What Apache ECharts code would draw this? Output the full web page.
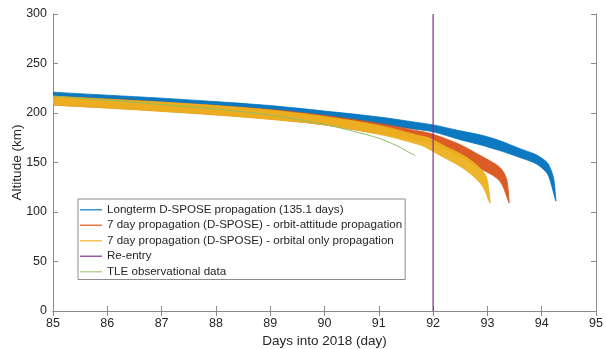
<!DOCTYPE html>
<html>
<head>
<meta charset="utf-8">
<script src="https://cdn.jsdelivr.net/npm/echarts@6/dist/echarts.min.js"></script>
<style>
html,body{margin:0;padding:0;background:#fff;}
#chart{width:606px;height:349px;}
</style>
</head>
<body>
<div id="chart"></div>
<script>
// X axis ticks
const xTicks = [85, 86, 87, 88, 89, 90, 91, 92, 93, 94, 95];
const yTicks = [0, 50, 100, 150, 200, 250, 300];

// Longterm D-SPOSE propagation (band envelope of the oscillating altitude)
const longDays  = [85, 86, 87, 88, 89, 90, 91, 91.76, 92, 92.5, 92.86, 93.23, 93.6, 93.85, 93.97, 94.1, 94.16, 94.22, 94.26];
const longUpper = [221, 218, 215, 211.5, 207.5, 202, 196, 190, 188, 182, 178, 172, 164, 159, 155.5, 150, 144, 134, 113];
const longLower = [216, 213, 210, 206.5, 202, 196, 189, 183, 181, 173, 168, 162, 155, 150, 146, 139, 131, 119, 111];

// 7 day propagation, orbit-attitude
const oaDays  = [85, 87, 89, 90, 91, 91.76, 92, 92.5, 92.87, 93.1, 93.23, 93.3, 93.36, 93.4];
const oaUpper = [217, 211, 203.5, 197.5, 189.5, 181.5, 178.5, 168, 157, 150, 145, 140, 132, 111];
const oaLower = [208, 202, 194, 188, 179, 172, 169, 156, 144, 137, 131, 124, 115, 109];

// 7 day propagation, orbital only
const orbDays  = [85, 86, 87, 88, 89, 90, 91, 91.76, 91.94, 92.2, 92.5, 92.7, 92.87, 92.95, 93.0, 93.05];
const orbUpper = [217, 214, 211, 207.5, 203, 196.5, 187.5, 177, 174.5, 167, 159, 152, 144, 139, 132, 111];
const orbLower = [208, 205, 201.5, 198, 193.5, 188, 178.5, 167.7, 163, 155, 146, 138, 129, 122, 115, 109];

// Re-entry
const reentryDay = 92;
const reentryRange = [0, 300];

// TLE observational data
const tleDays = [85, 86, 87, 88, 89, 89.5, 90, 90.5, 91, 91.33, 91.5, 91.67];
const tleAlt  = [217, 213, 208.5, 204, 198, 193.5, 188.5, 182, 174.5, 167, 162, 157];

const names = [
  'Longterm D-SPOSE propagation (135.1 days)',
  '7 day propagation (D-SPOSE) - orbit-attitude propagation',
  '7 day propagation (D-SPOSE) - orbital only propagation',
  'Re-entry',
  'TLE observational data'
];
const colors = ['#0072BD', '#D95319', '#EDB120', '#7E2F8E', '#8fc060'];
const legendColors = ['#3a93d3', '#e5784a', '#f2c453', '#9a5aa6', '#b3d68f'];

function bandSeries(name, days, upper, lower, color) {
  return {
    name: name,
    type: 'custom',
    xAxisIndex: 0, yAxisIndex: 0,
    clip: true,
    itemStyle: {color: color},
    data: [[days[0], upper[0]]],
    renderItem: function (params, api) {
      const top = days.map((d, i) => api.coord([d, upper[i]]));
      const bot = days.map((d, i) => api.coord([d, lower[i]]));
      return {
        type: 'group',
        children: [{
          type: 'polyline',
          shape: {points: top.concat(bot.slice().reverse()), smooth: 0.3},
          style: {fill: color, stroke: color, lineWidth: 0.8, opacity: 0.95}
        }]
      };
    }
  };
}

const font = "'Liberation Sans', Arial, Helvetica, sans-serif";
const axisColor = '#8a8a8a';
const textColor = '#262626';

const chart = echarts.init(document.getElementById('chart'), null, {renderer: 'canvas'});
const option = {
  animation: false,
  backgroundColor: '#fff',
  textStyle: {fontFamily: font},
  grid: {left: 53, right: 10, top: 14, bottom: 38, containLabel: false, outerBoundsMode: 'none'},
  legend: {
    orient: 'vertical',
    left: 78, top: 199,
    padding: [3, 3, 0, 2],
    itemWidth: 22, itemHeight: 1.5,
    itemGap: 0,
    borderColor: '#8c8c8c', borderWidth: 1,
    backgroundColor: '#fff',
    textStyle: {fontSize: 11.6, color: textColor, fontFamily: font, lineHeight: 15.5},
    data: names.map((n, i) => ({name: n, icon: 'rect', itemStyle: {color: legendColors[i]}}))
  },
  xAxis: [{
    type: 'value', min: xTicks[0], max: xTicks[xTicks.length - 1], interval: 1,
    name: 'Days into 2018 (day)', nameLocation: 'middle', nameGap: 23, nameMoveOverlap: false,
    nameTextStyle: {fontSize: 13.5, color: textColor, fontFamily: font},
    axisLine: {show: true, lineStyle: {color: axisColor, width: 1}},
    axisTick: {show: true, inside: true, length: 5, lineStyle: {color: axisColor}},
    axisLabel: {fontSize: 12.5, color: textColor, margin: 6, fontFamily: font},
    splitLine: {show: false}
  }, {
    type: 'value', position: 'top', min: xTicks[0], max: xTicks[xTicks.length - 1], interval: 1,
    axisLine: {show: true, lineStyle: {color: axisColor, width: 1}},
    axisTick: {show: true, inside: true, length: 5, lineStyle: {color: axisColor}},
    axisLabel: {show: false},
    splitLine: {show: false}
  }],
  yAxis: [{
    type: 'value', min: yTicks[0], max: yTicks[yTicks.length - 1], interval: 50,
    name: 'Altitude (km)', nameLocation: 'middle', nameGap: 29, nameMoveOverlap: false,
    nameTextStyle: {fontSize: 13.5, color: textColor, fontFamily: font},
    axisLine: {show: true, lineStyle: {color: axisColor, width: 1}},
    axisTick: {show: true, inside: true, length: 5, lineStyle: {color: axisColor}},
    axisLabel: {fontSize: 12.5, color: textColor, margin: 6, fontFamily: font},
    splitLine: {show: false}
  }, {
    type: 'value', position: 'right', min: yTicks[0], max: yTicks[yTicks.length - 1], interval: 50,
    axisLine: {show: true, lineStyle: {color: axisColor, width: 1}},
    axisTick: {show: true, inside: true, length: 5, lineStyle: {color: axisColor}},
    axisLabel: {show: false},
    splitLine: {show: false}
  }],
  series: [
    bandSeries(names[0], longDays, longUpper, longLower, colors[0]),
    bandSeries(names[1], oaDays, oaUpper, oaLower, colors[1]),
    bandSeries(names[2], orbDays, orbUpper, orbLower, colors[2]),
    {
      name: names[3], type: 'line', xAxisIndex: 0, yAxisIndex: 0,
      data: reentryRange.map(v => [reentryDay, v]),
      symbol: 'none', lineStyle: {color: colors[3], width: 1.2}, itemStyle: {color: colors[3]}
    },
    {
      name: names[4], type: 'line', xAxisIndex: 0, yAxisIndex: 0,
      data: tleDays.map((d, i) => [d, tleAlt[i]]),
      symbol: 'none', smooth: 0.3, lineStyle: {color: colors[4], width: 1}, itemStyle: {color: colors[4]}
    }
  ]
};
chart.setOption(option);
</script>
</body>
</html>
